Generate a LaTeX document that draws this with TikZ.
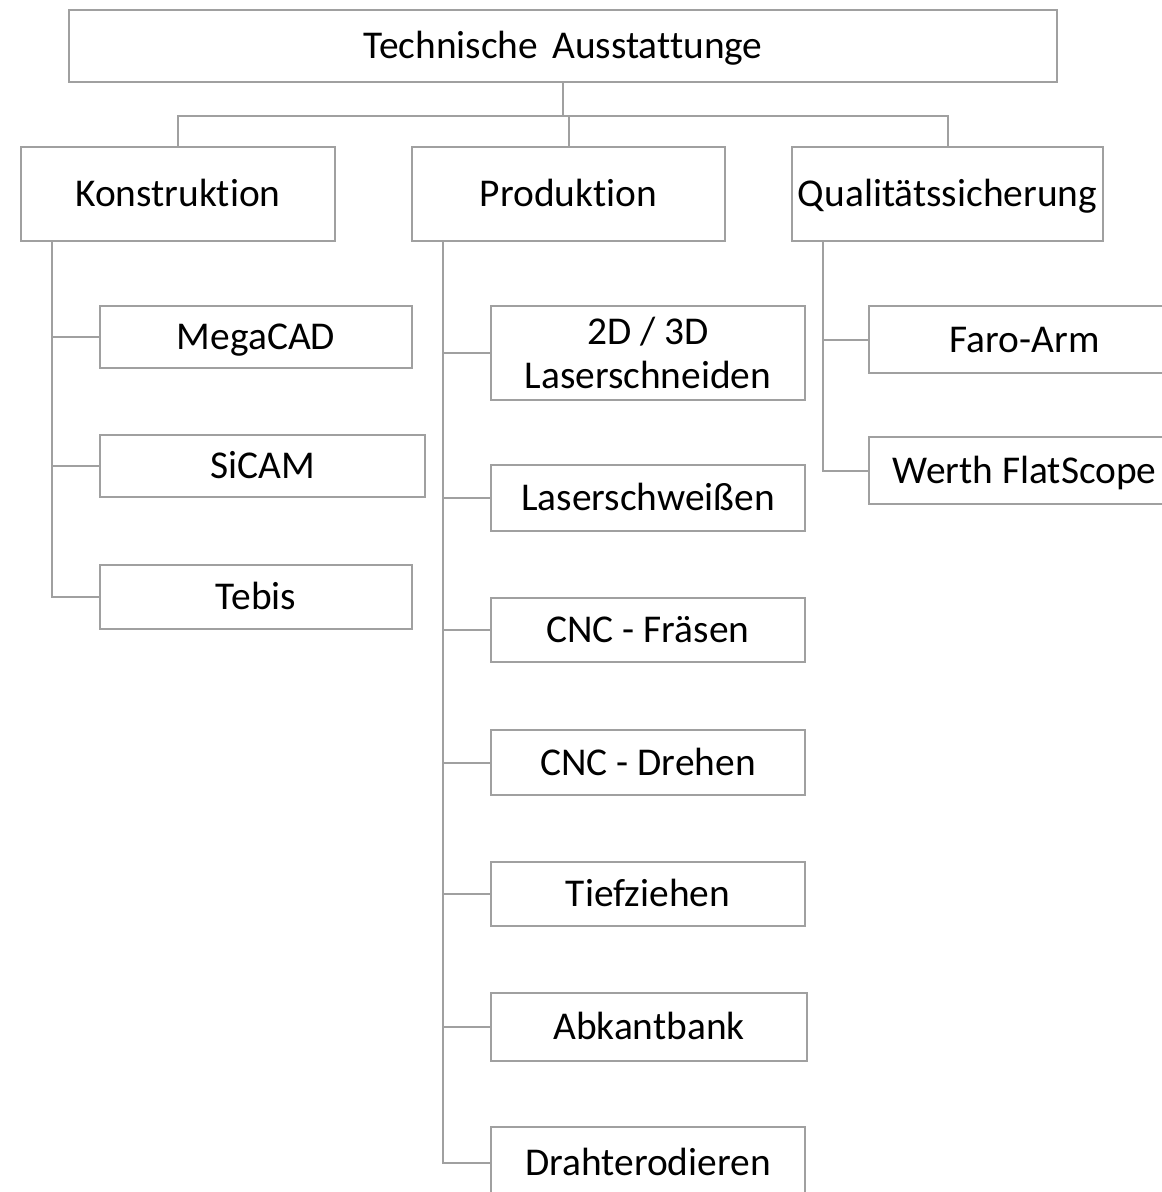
\documentclass[tikz,border=0pt]{standalone}
\usepackage{fontspec}
\setmainfont{Carlito}[Ligatures=NoCommon]
\definecolor{ln}{RGB}{160,160,160}
\begin{document}
\begin{tikzpicture}[x=1pt,y=-1pt,
  box/.style={draw=ln, line width=2pt, inner sep=0pt, fill=white,
    font=\fontsize{39.4}{44}\selectfont, text height=25.4pt, text depth=0pt},
  conn/.style={draw=ln, line width=2pt}]
\useasboundingbox (0,0) rectangle (1162,1192);
\clip (0,0) rectangle (1162,1192);
\fill[white] (0,0) rectangle (1162,1192);
% top
\node[box, minimum width=988pt, minimum height=72pt] (top) at (563,46) {Technische\hspace{0.36em}Ausstattunge};
% level 1
\node[box, minimum width=314pt, minimum height=94pt] (konst) at (178,194) {Konstruktion};
\node[box, minimum width=313pt, minimum height=94pt] (prod) at (568.5,194) {Produktion};
\node[box, minimum width=311pt, minimum height=94pt] (qual) at (947.5,194) {Qualitätssicherung};
% Konstruktion children
\node[box, minimum width=312pt, minimum height=62pt] (mega) at (256,337) {MegaCAD};
\node[box, minimum width=325pt, minimum height=62pt] (sicam) at (262.5,466) {SiCAM};
\node[box, minimum width=312pt, minimum height=64pt] (tebis) at (256,597) {Tebis};
% Produktion children
\node[box, minimum width=314pt, minimum height=94pt, align=center, text height=, text depth=] (laser) at (648,353) {2D / 3D\\Laserschneiden};
\node[box, minimum width=314pt, minimum height=66pt] (schweiss) at (648,498) {Laserschweißen};
\node[box, minimum width=314pt, minimum height=64pt] (fraesen) at (648,630) {CNC - Fräsen};
\node[box, minimum width=314pt, minimum height=65pt] (drehen) at (648,762.5) {CNC - Drehen};
\node[box, minimum width=314pt, minimum height=64pt] (tief) at (648,894) {Tiefziehen};
\node[box, minimum width=316pt, minimum height=68pt] (abkant) at (649,1027) {Abkantbank};
\node[box, minimum width=314pt, minimum height=72pt] (draht) at (648,1163) {Drahterodieren};
% Qualitaet children
\node[box, minimum width=311pt, minimum height=67pt] (faro) at (1024.5,339.5) {Faro-Arm};
\node[box, minimum width=311pt, minimum height=67pt] (werth) at (1024.5,470.5) {Werth FlatScope};
% connectors top
\coordinate (bus) at (563,116);
\draw[conn] (top.south) -- (bus);
\draw[conn] (konst.north) |- (bus) -| (qual.north);
\draw[conn] (prod.north) -- (prod.north |- bus);
% Konstruktion trunk
\coordinate (kt) at (52,241);
\draw[conn] (kt) |- (tebis.west);
\draw[conn] (mega.west) -- (mega.west -| kt);
\draw[conn] (sicam.west) -- (sicam.west -| kt);
% Produktion trunk
\coordinate (pt) at (443,241);
\draw[conn] (pt) |- (draht.west);
\draw[conn] (laser.west) -- (laser.west -| pt);
\draw[conn] (schweiss.west) -- (schweiss.west -| pt);
\draw[conn] (fraesen.west) -- (fraesen.west -| pt);
\draw[conn] (drehen.west) -- (drehen.west -| pt);
\draw[conn] (tief.west) -- (tief.west -| pt);
\draw[conn] (abkant.west) -- (abkant.west -| pt);
% Qualitaet trunk
\coordinate (qt) at (823,241);
\draw[conn] (qt) |- (werth.west);
\draw[conn] (faro.west) -- (faro.west -| qt);
\end{tikzpicture}
\end{document}
